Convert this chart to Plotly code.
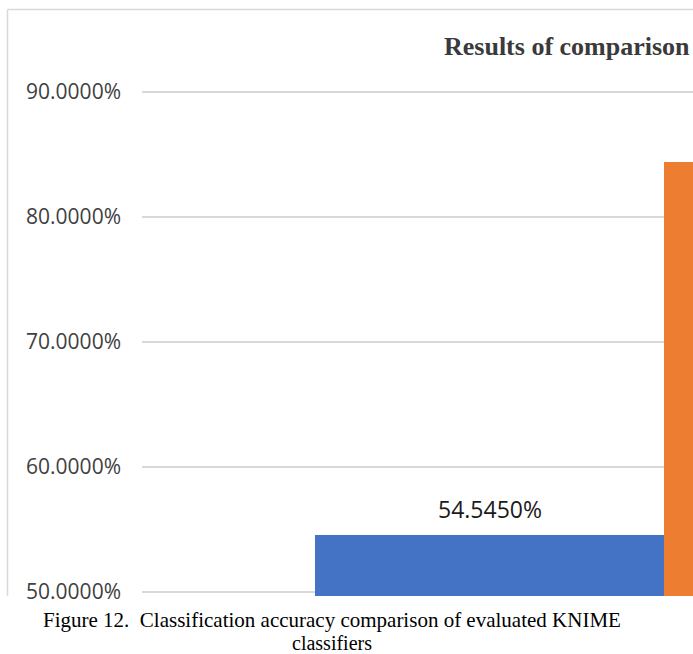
import plotly.graph_objects as go

# ---- data ----
classifiers = ["Classifier 1", "Classifier 2"]
accuracy = [0.54545, 0.844]
bar_colors = ["#4472C4", "#ED7D31"]
title_text = "Results of comparison"
caption_line1 = "Figure 12.  Classification accuracy comparison of evaluated KNIME"
caption_line2 = "classifiers"

W, H = 693, 654
L, R, T, B = 142, 0, 10, 58
pw, ph = W - L - R, H - T - B

def px_x(px):
    return (px - L) / pw

def px_y(py):
    return (H - B - py) / ph

fig = go.Figure()
fig.add_trace(go.Bar(
    x=classifiers, y=accuracy, marker=dict(color=bar_colors, line=dict(width=0)),
    hoverinfo="skip", showlegend=False,
))

annotations = []
for name, val in zip(classifiers, accuracy):
    annotations.append(dict(
        x=name, y=val, xref="x", yref="y", text=f"{val:.4%}", showarrow=False,
        yanchor="middle", yshift=26,
        font=dict(family="Open Sans", size=23, color="#1a1a1a"),
    ))

annotations.append(dict(
    x=px_x(442), y=px_y(46), xref="paper", yref="paper", xanchor="left", yanchor="middle",
    text="<b>" + title_text + "</b>", showarrow=False,
    font=dict(family="Liberation Serif", size=26, color="#3a3a3a"),
))
annotations.append(dict(
    x=px_x(332), y=px_y(620), xref="paper", yref="paper", xanchor="center", yanchor="middle",
    text=caption_line1, showarrow=False,
    font=dict(family="Liberation Serif", size=21, color="#000000"),
))
annotations.append(dict(
    x=px_x(332), y=px_y(643), xref="paper", yref="paper", xanchor="center", yanchor="middle",
    text=caption_line2, showarrow=False,
    font=dict(family="Liberation Serif", size=20, color="#000000"),
))

border = "#d9d9d9"
shapes = [
    dict(type="line", xref="paper", yref="paper", x0=px_x(7.5), x1=px_x(7.5),
         y0=px_y(9.5), y1=px_y(596), line=dict(color=border, width=1.5), layer="above"),
    dict(type="line", xref="paper", yref="paper", x0=px_x(7.5), x1=px_x(700),
         y0=px_y(9.5), y1=px_y(9.5), line=dict(color=border, width=1.5), layer="above"),
]

fig.update_layout(
    width=W, height=H, margin=dict(l=L, r=R, t=T, b=B, autoexpand=False),
    paper_bgcolor="white", plot_bgcolor="white",
    bargap=0, annotations=annotations, shapes=shapes,
    xaxis=dict(range=[-0.9957, 0.5831], showticklabels=False, showgrid=False,
               zeroline=False, showline=False, ticks=""),
    yaxis=dict(range=[0.4968, 0.9656], tick0=0.5, dtick=0.1, tickformat=".4%",
               showgrid=True, gridcolor="#d9d9d9", gridwidth=1.5, zeroline=False,
               showline=False, ticks="", ticklabelstandoff=20,
               tickfont=dict(family="Open Sans", size=21, color="#404040")),
)

fig.write_html("out.html")
